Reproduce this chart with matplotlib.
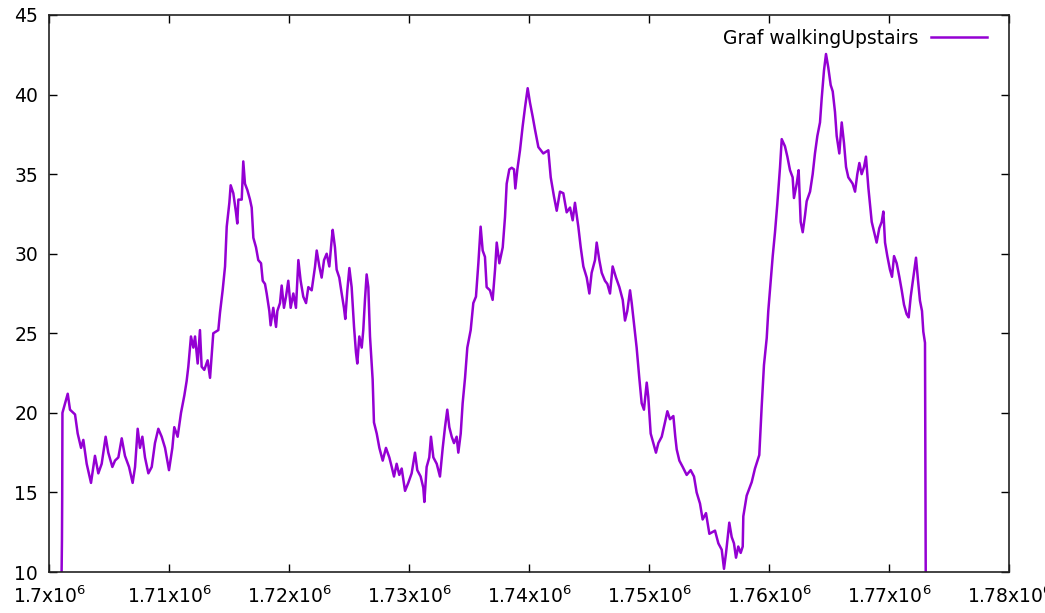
import matplotlib
matplotlib.use("Agg")
import matplotlib.pyplot as plt

# x positions in thousands (x * 1000 gives the axis value)
x_k = [
    1701.05, 1701.08, 1701.10, 1701.12, 1701.56, 1701.75, 1702.17, 1702.39, 1702.67, 1702.86,
    1703.14, 1703.50, 1703.83, 1704.11, 1704.39, 1704.72, 1704.94, 1705.28, 1705.50, 1705.78,
    1706.06, 1706.33, 1706.67, 1706.97, 1707.17, 1707.39, 1707.58, 1707.78, 1708.00, 1708.28,
    1708.56, 1708.83, 1709.11, 1709.39, 1709.67, 1710.00, 1710.28, 1710.44, 1710.72, 1711.00,
    1711.28, 1711.47, 1711.61, 1711.83, 1712.03, 1712.17, 1712.39, 1712.58, 1712.72, 1712.94,
    1713.22, 1713.42, 1713.69, 1714.11, 1714.25, 1714.47, 1714.67, 1714.81, 1715.03, 1715.14,
    1715.36, 1715.58, 1715.69, 1715.78, 1716.06, 1716.19, 1716.33, 1716.53, 1716.75, 1716.89,
    1717.03, 1717.25, 1717.44, 1717.67, 1717.81, 1718.00, 1718.14, 1718.36, 1718.47, 1718.69,
    1718.92, 1719.03, 1719.25, 1719.39, 1719.58, 1719.75, 1719.94, 1720.14, 1720.36, 1720.58,
    1720.78, 1720.97, 1721.19, 1721.42, 1721.61, 1721.89, 1722.17, 1722.31, 1722.53, 1722.72,
    1722.92, 1723.14, 1723.36, 1723.56, 1723.64, 1723.83, 1723.97, 1724.19, 1724.39, 1724.58,
    1724.69, 1724.86, 1725.03, 1725.22, 1725.42, 1725.58, 1725.69, 1725.86, 1726.06, 1726.19,
    1726.33, 1726.47, 1726.61, 1726.75, 1726.97, 1727.08, 1727.31, 1727.53, 1727.81, 1728.08,
    1728.36, 1728.56, 1728.75, 1728.97, 1729.19, 1729.39, 1729.67, 1729.94, 1730.22, 1730.50,
    1730.69, 1730.97, 1731.19, 1731.28, 1731.47, 1731.69, 1731.83, 1732.03, 1732.31, 1732.58,
    1732.81, 1733.00, 1733.19, 1733.36, 1733.56, 1733.75, 1733.97, 1734.11, 1734.31, 1734.47,
    1734.67, 1734.86, 1735.14, 1735.36, 1735.58, 1735.78, 1735.97, 1736.14, 1736.33, 1736.47,
    1736.75, 1736.97, 1737.17, 1737.31, 1737.53, 1737.81, 1738.00, 1738.14, 1738.36, 1738.56,
    1738.75, 1738.86, 1739.03, 1739.25, 1739.47, 1739.67, 1739.89, 1740.08, 1740.31, 1740.50,
    1740.78, 1741.19, 1741.61, 1741.81, 1742.08, 1742.31, 1742.58, 1742.86, 1743.14, 1743.42,
    1743.64, 1743.83, 1744.11, 1744.31, 1744.53, 1744.81, 1745.03, 1745.22, 1745.50, 1745.64,
    1745.86, 1746.06, 1746.33, 1746.53, 1746.75, 1746.97, 1747.25, 1747.53, 1747.81, 1748.00,
    1748.19, 1748.42, 1748.56, 1748.75, 1748.97, 1749.19, 1749.39, 1749.58, 1749.81, 1749.94,
    1750.14, 1750.36, 1750.58, 1750.78, 1751.06, 1751.33, 1751.53, 1751.75, 1752.03, 1752.19,
    1752.31, 1752.53, 1752.81, 1753.14, 1753.47, 1753.75, 1753.97, 1754.25, 1754.47, 1754.75,
    1755.03, 1755.50, 1755.78, 1756.06, 1756.25, 1756.42, 1756.69, 1756.89, 1757.08, 1757.25,
    1757.44, 1757.64, 1757.81, 1757.86, 1758.14, 1758.56, 1758.83, 1759.19, 1759.39, 1759.58,
    1759.81, 1759.94, 1760.08, 1760.31, 1760.50, 1760.69, 1760.92, 1761.06, 1761.33, 1761.53,
    1761.75, 1761.97, 1762.08, 1762.31, 1762.47, 1762.64, 1762.81, 1763.00, 1763.14, 1763.42,
    1763.64, 1763.83, 1764.03, 1764.25, 1764.39, 1764.58, 1764.75, 1764.94, 1765.14, 1765.31,
    1765.50, 1765.64, 1765.86, 1766.06, 1766.25, 1766.42, 1766.61, 1766.97, 1767.17, 1767.36,
    1767.53, 1767.72, 1767.92, 1768.08, 1768.28, 1768.42, 1768.56, 1768.75, 1768.97, 1769.19,
    1769.39, 1769.53, 1769.67, 1769.86, 1770.08, 1770.25, 1770.42, 1770.64, 1770.86, 1771.06,
    1771.25, 1771.47, 1771.64, 1771.81, 1772.03, 1772.25, 1772.42, 1772.58, 1772.75, 1772.86,
    1773.00, 1773.06,
]

y_vals = [
    10.0, 12.0, 14.7, 20.0, 21.2, 20.2, 19.9, 18.7, 17.8, 18.3,
    16.8, 15.6, 17.3, 16.2, 16.8, 18.5, 17.5, 16.6, 17.0, 17.2,
    18.4, 17.3, 16.6, 15.6, 16.6, 19.0, 17.8, 18.5, 17.2, 16.2,
    16.6, 18.1, 19.0, 18.5, 17.8, 16.4, 17.8, 19.1, 18.5, 20.0,
    21.1, 22.0, 22.9, 24.8, 24.1, 24.8, 23.1, 25.2, 22.9, 22.7,
    23.3, 22.2, 25.0, 25.2, 26.3, 27.7, 29.2, 31.7, 33.2, 34.3,
    33.8, 32.6, 31.9, 33.4, 33.4, 35.8, 34.4, 34.0, 33.4, 32.9,
    31.0, 30.4, 29.6, 29.4, 28.3, 28.1, 27.5, 26.4, 25.5, 26.6,
    25.4, 26.4, 26.9, 28.0, 26.6, 27.3, 28.3, 26.6, 27.5, 26.6,
    29.6, 28.3, 27.3, 26.9, 27.9, 27.7, 29.2, 30.2, 29.2, 28.5,
    29.6, 30.0, 29.2, 30.9, 31.5, 30.4, 29.0, 28.5, 27.5, 26.6,
    25.9, 27.7, 29.1, 27.9, 25.4, 23.8, 23.1, 24.8, 24.1, 25.2,
    27.1, 28.7, 27.9, 24.8, 22.1, 19.4, 18.7, 17.8, 17.0, 17.8,
    17.2, 16.6, 16.0, 16.8, 16.1, 16.5, 15.1, 15.6, 16.2, 17.5,
    16.4, 16.0, 15.3, 14.4, 16.6, 17.2, 18.5, 17.2, 16.8, 16.0,
    17.8, 19.1, 20.2, 19.1, 18.5, 18.1, 18.5, 17.5, 18.7, 20.6,
    22.2, 24.1, 25.2, 26.9, 27.3, 29.4, 31.7, 30.2, 29.8, 27.9,
    27.7, 27.1, 29.0, 30.7, 29.4, 30.4, 32.3, 34.4, 35.3, 35.4,
    35.3, 34.1, 35.3, 36.5, 38.0, 39.2, 40.4, 39.5, 38.6, 37.8,
    36.7, 36.3, 36.5, 34.8, 33.6, 32.7, 33.9, 33.8, 32.6, 32.9,
    32.1, 33.2, 31.7, 30.4, 29.2, 28.5, 27.5, 28.8, 29.6, 30.7,
    29.6, 28.8, 28.3, 28.1, 27.5, 29.2, 28.5, 27.9, 27.1, 25.8,
    26.4, 27.7, 26.9, 25.6, 24.1, 22.2, 20.6, 20.2, 21.9, 21.0,
    18.7, 18.1, 17.5, 18.1, 18.5, 19.4, 20.1, 19.6, 19.8, 18.5,
    17.7, 17.0, 16.6, 16.1, 16.4, 16.0, 15.0, 14.3, 13.3, 13.7,
    12.4, 12.6, 11.8, 11.4, 10.2, 11.2, 13.1, 12.2, 11.8, 10.9,
    11.6, 11.2, 11.6, 13.5, 14.8, 15.65, 16.5, 17.35, 20.4, 23.0,
    24.7, 26.4, 27.7, 29.85, 31.35, 33.1, 35.45, 37.2, 36.75, 36.1,
    35.25, 34.8, 33.5, 34.4, 35.25, 32.0, 31.35, 32.4, 33.3, 33.9,
    35.0, 36.3, 37.4, 38.25, 39.75, 41.5, 42.55, 41.7, 40.6, 40.2,
    38.9, 37.4, 36.3, 38.25, 36.95, 35.45, 34.8, 34.4, 33.9, 35.0,
    35.7, 35.0, 35.45, 36.1, 34.15, 33.1, 32.0, 31.4, 30.7, 31.6,
    32.0, 32.65, 30.7, 29.85, 29.0, 28.55, 29.85, 29.4, 28.55, 27.7,
    26.8, 26.2, 26.0, 27.3, 28.55, 29.75, 28.3, 27.05, 26.4, 25.1,
    24.4, 10.0,
]

x_ticks = [1700000, 1710000, 1720000, 1730000, 1740000, 1750000, 1760000, 1770000, 1780000]
x_tick_labels = [r"1.7x10$^{6}$", r"1.71x10$^{6}$", r"1.72x10$^{6}$", r"1.73x10$^{6}$",
                 r"1.74x10$^{6}$", r"1.75x10$^{6}$", r"1.76x10$^{6}$", r"1.77x10$^{6}$",
                 r"1.78x10$^{6}$"]
y_ticks = [10, 15, 20, 25, 30, 35, 40, 45]
series_label = "Graf walkingUpstairs"

plt.rcParams['font.family'] = ['DejaVu Sans']
W, H = 1045, 613
fig = plt.figure(figsize=(W / 100, H / 100), dpi=100)
ax = fig.add_axes([49 / W, (H - 572) / H, (1009 - 49) / W, (572 - 15) / H])

x_vals = [v * 1000 for v in x_k]
ax.plot(x_vals, y_vals, color="#9400D3", linewidth=1.8, label=series_label)

ax.set_xlim(1700000, 1780000)
ax.set_ylim(10, 45)
ax.set_xticks(x_ticks)
ax.set_xticklabels(x_tick_labels)
ax.set_yticks(y_ticks)
ax.tick_params(direction="in", length=6, width=1, top=True, right=True,
               labelsize=13.5, colors="black")
ax.tick_params(axis="x", pad=10)
ax.tick_params(axis="y", pad=8)
for s in ax.spines.values():
    s.set_linewidth(1.2)
    s.set_color("#222222")

leg = ax.legend(loc="upper right", frameon=False, markerfirst=False,
                fontsize=13.5, handlelength=3.0, handletextpad=0.65,
                borderaxespad=0.0, borderpad=0.0,
                bbox_to_anchor=(0.977, 0.975))

fig.savefig("out.png", dpi=100)
